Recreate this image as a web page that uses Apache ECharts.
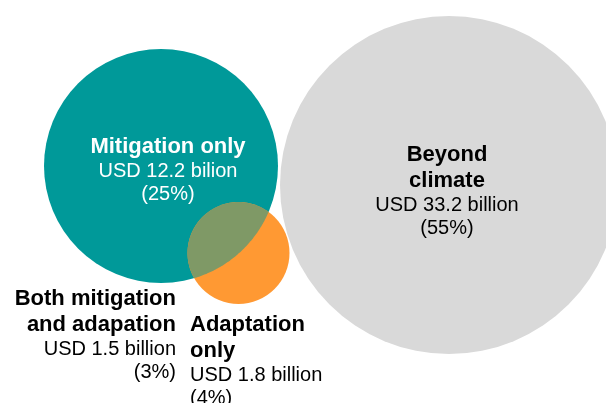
<!DOCTYPE html>
<html>
<head>
<meta charset="utf-8">
<script src="https://cdn.jsdelivr.net/npm/echarts@6/dist/echarts.min.js"></script>
<style>
  html, body { margin: 0; padding: 0; background: #ffffff; }
  #chart { width: 606px; height: 403px; }
</style>
</head>
<body>
<div id="chart"></div>
<script>
// Climate-related finance split into four groups
const categories = ['Mitigation only', 'Both mitigation and adapation', 'Adaptation only', 'Beyond climate'];
const amountsBn = [12.2, 1.5, 1.8, 33.2];
const sharesPct = [25, 3, 4, 55];
const nameLines = [['Mitigation only'], ['Both mitigation', 'and adapation'], ['Adaptation', 'only'], ['Beyond', 'climate']];
const unitWords = ['bilion', 'billion', 'billion', 'billion'];

// Circle geometry on a 1:1 plot plane (x right, y down)
const circleLayout = [
  { key: 'beyond',     cx: 449,   cy: 185, r: 169, color: '#D9D9D9' },
  { key: 'mitigation', cx: 161,   cy: 166, r: 117, color: '#009999' },
  { key: 'adaptation', cx: 238.5, cy: 253, r: 51,  color: '#FF9933' }
];
const overlapColor = '#7F9966';

// Where each group's label block sits (block middle)
const labelAnchors = [
  { x: 168, y: 169.5, align: 'center', color: '#ffffff' },
  { x: 176, y: 334.5, align: 'right',  color: '#000000' },
  { x: 190, y: 361,   align: 'left',   color: '#000000' },
  { x: 447, y: 191,   align: 'center', color: '#000000' }
];

const FONT = '"Liberation Sans", Arial, Helvetica, sans-serif';

// Lens-shaped intersection of two circles, as a polygon in plot units
function lensPoints(A, B, n) {
  const dx = B.cx - A.cx, dy = B.cy - A.cy;
  const d = Math.hypot(dx, dy);
  const a = (A.r * A.r - B.r * B.r + d * d) / (2 * d);
  const alphaA = Math.acos(a / A.r);
  const alphaB = Math.acos((d - a) / B.r);
  const thA = Math.atan2(dy, dx);
  const thB = thA + Math.PI;
  const pts = [];
  for (let i = 0; i <= n; i++) {
    const t = thA - alphaA + (2 * alphaA) * i / n;
    pts.push([A.cx + A.r * Math.cos(t), A.cy + A.r * Math.sin(t)]);
  }
  for (let i = 0; i <= n; i++) {
    const t = thB - alphaB + (2 * alphaB) * i / n;
    pts.push([B.cx + B.r * Math.cos(t), B.cy + B.r * Math.sin(t)]);
  }
  return pts;
}

const circleData = circleLayout.map(c => [c.cx, c.cy, c.r]);
// last item stands for the overlap between mitigation and adaptation
circleData.push([0, 0, 0]);

const labelData = categories.map((name, i) => ({
  name: name,
  value: [labelAnchors[i].x, labelAnchors[i].y]
}));

function labelText(i) {
  const lines = nameLines[i].map(l => '{b|' + l + '}');
  lines.push('{r|USD ' + amountsBn[i] + ' ' + unitWords[i] + '}');
  lines.push('{r|(' + sharesPct[i] + '%)}');
  return lines.join('\n');
}

const chart = echarts.init(document.getElementById('chart'), null, { renderer: 'canvas' });

chart.setOption({
  animation: false,
  backgroundColor: '#ffffff',
  grid: { left: 0, right: 0, top: 0, bottom: 0, containLabel: false },
  xAxis: { type: 'value', min: 0, max: 606, show: false },
  yAxis: { type: 'value', min: 0, max: 403, inverse: true, show: false },
  series: [
    {
      type: 'custom',
      name: 'circles',
      silent: true,
      clip: false,
      data: circleData,
      renderItem: function (params, api) {
        const i = params.dataIndex;
        if (i < circleLayout.length) {
          const c = api.coord([api.value(0), api.value(1)]);
          const r = api.size([api.value(2), 0])[0];
          return {
            type: 'circle',
            shape: { cx: c[0], cy: c[1], r: r },
            style: { fill: circleLayout[i].color }
          };
        }
        const A = circleLayout[1], B = circleLayout[2];
        const pts = lensPoints(A, B, 80).map(p => api.coord(p));
        return {
          type: 'polygon',
          shape: { points: pts },
          style: { fill: overlapColor }
        };
      }
    },
    {
      type: 'custom',
      name: 'labels',
      silent: true,
      clip: false,
      data: labelData,
      renderItem: function (params, api) {
        const i = params.dataIndex;
        const p = api.coord([api.value(0), api.value(1)]);
        const col = labelAnchors[i].color;
        return {
          type: 'text',
          x: p[0],
          y: p[1],
          style: {
            text: labelText(i),
            align: labelAnchors[i].align,
            verticalAlign: 'middle',
            fill: col,
            rich: {
              b: { fontFamily: FONT, fontSize: 22, fontWeight: 'bold', lineHeight: 26, fill: col, align: labelAnchors[i].align },
              r: { fontFamily: FONT, fontSize: 20, fontWeight: 'normal', lineHeight: 23, fill: col, align: labelAnchors[i].align }
            }
          }
        };
      }
    }
  ]
});
</script>
</body>
</html>
